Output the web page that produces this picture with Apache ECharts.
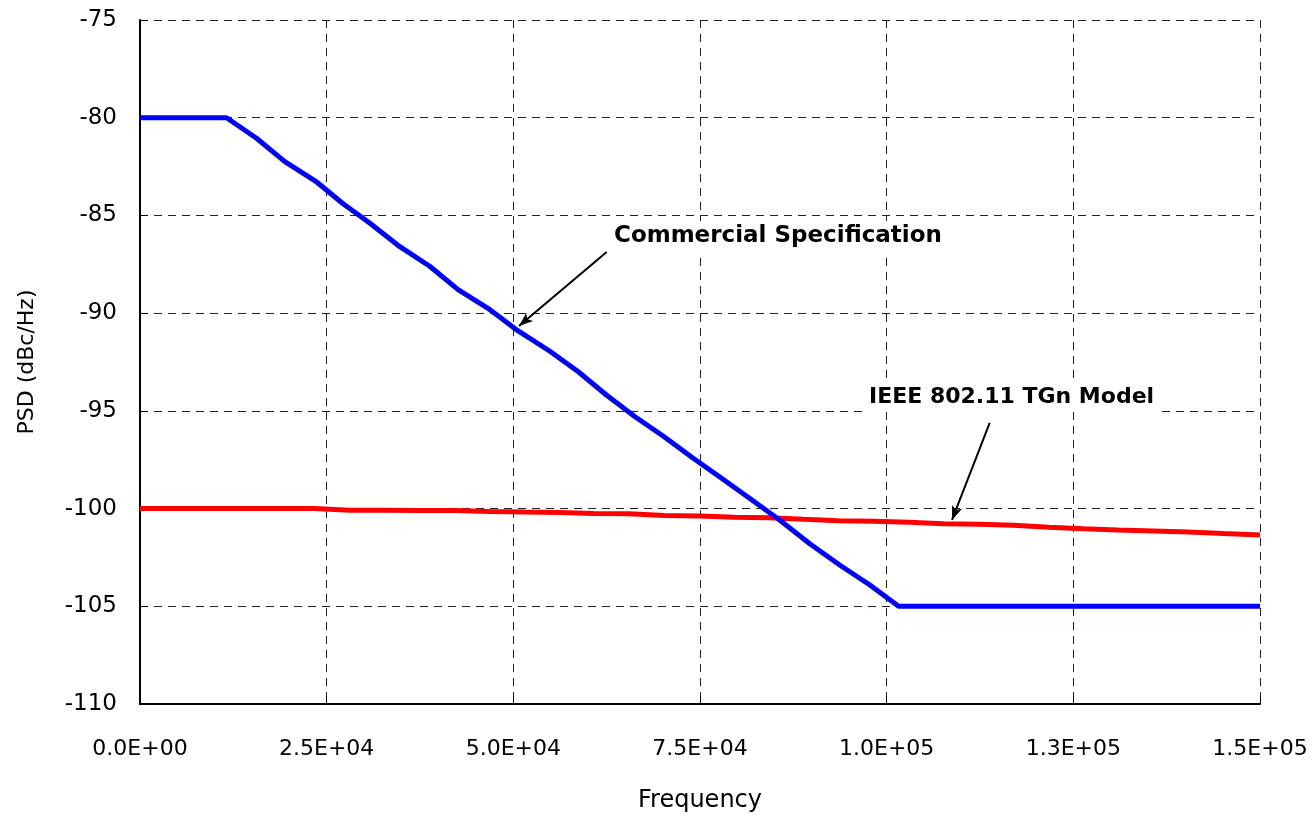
<!DOCTYPE html>
<html>
<head>
<meta charset="utf-8">
<title>PSD</title>
<script src="https://cdn.jsdelivr.net/npm/echarts@6/dist/echarts.min.js"></script>
<style>
  html, body { margin: 0; padding: 0; background: #fff; }
  #chart { width: 1315px; height: 820px; }
</style>
</head>
<body>
<div id="chart"></div>
<script>
  // frequency (Hz) / PSD (dBc/Hz)
  const commercialFreq = [0, 4000, 8000, 11600, 15600, 19400, 23700, 27200, 30800, 34800, 38800, 42600, 46600,
    50600, 54900, 58700, 62500, 66300, 70100, 74000, 77700, 82100, 85700, 89700, 93750, 97700, 101600, 150000];
  const commercialPsd = [-80, -80, -80, -80, -81.05, -82.25, -83.3, -84.4, -85.4, -86.6, -87.6, -88.8, -89.75,
    -90.9, -91.95, -93.0, -94.2, -95.3, -96.3, -97.4, -98.4, -99.6, -100.6, -101.8, -102.9, -103.9, -105, -105];

  const tgnFreq = [0, 4700, 9400, 14000, 18700, 23400, 28100, 32800, 37400, 42100, 46800, 51500, 56200, 60800,
    65500, 70200, 74900, 79600, 84200, 88900, 93600, 98300, 103000, 107600, 112300, 117000, 121700, 126400,
    131000, 135700, 140400, 145100, 150000];
  const tgnPsd = [-100, -100, -100, -100, -100, -100, -100.08, -100.08, -100.1, -100.1, -100.15, -100.18, -100.2,
    -100.25, -100.27, -100.35, -100.38, -100.45, -100.47, -100.55, -100.62, -100.65, -100.7, -100.78, -100.8,
    -100.85, -100.95, -101.03, -101.1, -101.15, -101.2, -101.28, -101.35];

  const xTickLabels = ["0.0E+00", "2.5E+04", "5.0E+04", "7.5E+04", "1.0E+05", "1.3E+05", "1.5E+05"];

  const font = "DejaVu Sans";
  const chart = echarts.init(document.getElementById("chart"));

  function zip(xs, ys) {
    return xs.map((x, i) => [x, ys[i]]);
  }

  const arrowStyle = {
    symbol: ["none", "arrow"],
    symbolSize: [8, 14],
    silent: true,
    label: { show: false },
    lineStyle: { color: "#000", width: 2, type: "solid" },
    emphasis: { disabled: true }
  };

  chart.setOption({
    animation: false,
    grid: { left: 140, right: 55, top: 20, bottom: 116 },
    xAxis: {
      type: "value",
      min: 0,
      max: 150000,
      interval: 25000,
      name: "Frequency",
      nameLocation: "middle",
      nameGap: 85,
      nameTextStyle: { fontFamily: font, fontSize: 24, color: "#000" },
      axisLine: { lineStyle: { color: "#000", width: 2 } },
      axisTick: { inside: true, length: 8, lineStyle: { color: "#000" } },
      axisLabel: {
        margin: 34,
        fontFamily: font,
        fontSize: 22,
        color: "#000",
        formatter: v => xTickLabels[Math.round(v / 25000)]
      },
      splitLine: { show: true, lineStyle: { color: "#222", type: [8, 6], width: 1 } }
    },
    yAxis: {
      type: "value",
      min: -110,
      max: -75,
      interval: 5,
      name: "PSD (dBc/Hz)",
      nameLocation: "middle",
      nameGap: 102,
      nameTextStyle: { fontFamily: font, fontSize: 22, color: "#000" },
      axisLine: { show: true, lineStyle: { color: "#000", width: 2 } },
      axisTick: { show: true, inside: true, length: 8, lineStyle: { color: "#000" } },
      axisLabel: { margin: 23, fontFamily: font, fontSize: 23, color: "#000" },
      splitLine: { show: true, lineStyle: { color: "#222", type: [8, 6], width: 1 } }
    },
    series: [
      {
        name: "IEEE 802.11 TGn Model",
        type: "line",
        data: zip(tgnFreq, tgnPsd),
        showSymbol: false,
        lineStyle: { color: "#ff0000", width: 5 },
        itemStyle: { color: "#ff0000" },
        markLine: Object.assign({
          data: [[{ coord: [113800, -95.62] }, { coord: [108750, -100.58] }]]
        }, arrowStyle)
      },
      {
        name: "Commercial Specification",
        type: "line",
        data: zip(commercialFreq, commercialPsd),
        showSymbol: false,
        lineStyle: { color: "#0000ff", width: 5 },
        itemStyle: { color: "#0000ff" },
        markLine: Object.assign({
          data: [[{ coord: [62500, -86.87] }, { coord: [50760, -90.66] }]]
        }, arrowStyle)
      }
    ],
    graphic: [
      {
        type: "text",
        left: 608,
        top: 221,
        z: 100,
        style: {
          text: "Commercial Specification",
          font: "bold 23px " + font,
          fill: "#000",
          backgroundColor: "#fff",
          padding: [4, 6]
        }
      },
      {
        type: "text",
        left: 863,
        top: 382,
        z: 100,
        style: {
          text: "IEEE 802.11 TGn Model",
          font: "bold 22px " + font,
          fill: "#000",
          backgroundColor: "#fff",
          padding: [4, 6]
        }
      }
    ]
  });
</script>
</body>
</html>
